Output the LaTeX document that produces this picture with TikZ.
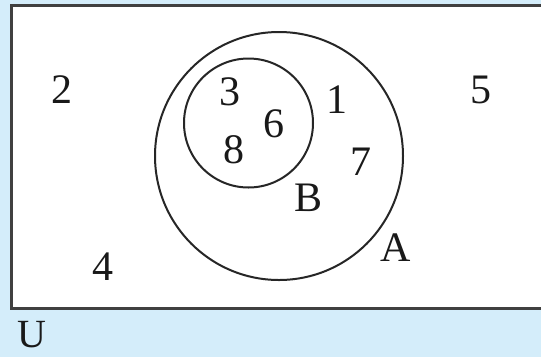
\documentclass[tikz,border=0pt]{standalone}
\usepackage{fontspec}
\setmainfont{Liberation Serif}
\begin{document}
\begin{tikzpicture}[x=1pt,y=-1pt,
  lbl/.style={font=\fontsize{42}{42}\selectfont, inner sep=0pt, text=black!90},
  setc/.style={draw=black!85, line width=2pt}]
\fill[fill={rgb,255:red,212;green,237;blue,250}] (0,0) rectangle (541,357);
\useasboundingbox (0,0) rectangle (541,357);
\draw[draw=black!75, line width=3pt, fill=white] (11,5) rectangle (560,308);
\node[setc, circle, minimum size=248pt, inner sep=0pt] (A) at (279,156) {};
\node[setc, circle, minimum size=129pt, inner sep=0pt] (B) at (248.5,123) {};
\node[lbl] (n2) at (62,90) {2};
\node[lbl] (n5) at (481,90) {5};
\node[lbl] (n4) at (103,267) {4};
\node[lbl, font=\fontsize{40}{40}\selectfont, anchor=base] (U) at (32,347) {U};
\node[lbl] (n3) at (230,92) {3};
\node[lbl] (n6) at (274,124) {6};
\node[lbl] (n8) at (234,150) {8};
\node[lbl] (n1) at (337,100) {1};
\node[lbl] (n7) at (361,162) {7};
\node[lbl] (lB) at (309,198) {B};
\node[lbl] (lA) at (396,248) {A};
\end{tikzpicture}
\end{document}
